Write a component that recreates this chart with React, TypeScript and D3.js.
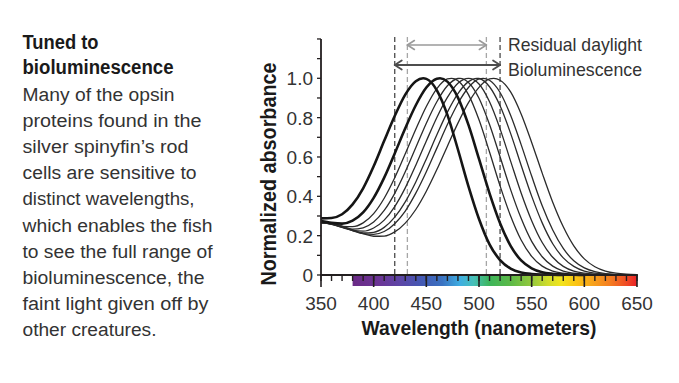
import React from "react";
import * as d3 from "d3";

// ---------- DATA ----------
const wavelengths = [350, 360, 370, 380, 390, 400, 410, 420, 430, 440, 450, 460, 470, 480, 490, 500, 510, 520, 530, 540, 550, 560, 570, 580, 590, 600, 610, 620, 630, 640, 650];
const peakWavelengths = [447, 463, 474, 482, 490, 498, 504, 514];
const boldCurve = [true, true, false, false, false, false, false, false];

const absorbance447 = [0.288, 0.290, 0.309, 0.359, 0.441, 0.553, 0.682, 0.808, 0.917, 0.985, 0.997, 0.939, 0.814, 0.638, 0.451, 0.285, 0.156, 0.076, 0.033, 0.013, 0.005, 0.002, 0.001, 0];
const absorbance463 = [0.274, 0.265, 0.261, 0.276, 0.318, 0.392, 0.495, 0.618, 0.746, 0.863, 0.953, 0.998, 0.983, 0.902, 0.763, 0.590, 0.415, 0.263, 0.148, 0.074, 0.034, 0.014, 0.006, 0.002, 0.001, 0];
const absorbance474 = [0.271, 0.259, 0.247, 0.246, 0.265, 0.312, 0.390, 0.494, 0.616, 0.741, 0.857, 0.948, 0.997, 0.988, 0.917, 0.789, 0.625, 0.453, 0.300, 0.178, 0.095, 0.045, 0.020, 0.009, 0.004, 0.001, 0];
const absorbance482 = [0.269, 0.258, 0.243, 0.233, 0.240, 0.269, 0.328, 0.415, 0.525, 0.648, 0.772, 0.881, 0.962, 0.999, 0.979, 0.899, 0.765, 0.601, 0.434, 0.288, 0.171, 0.093, 0.045, 0.020, 0.009, 0.004, 0.002, 0.001, 0];
const absorbance490 = [0.268, 0.259, 0.242, 0.227, 0.223, 0.239, 0.279, 0.348, 0.443, 0.558, 0.681, 0.801, 0.903, 0.975, 1.0, 0.971, 0.881, 0.743, 0.579, 0.417, 0.276, 0.165, 0.090, 0.044, 0.020, 0.009, 0.004, 0.002, 0.001, 0];
const absorbance498 = [0.267, 0.260, 0.244, 0.226, 0.214, 0.217, 0.242, 0.294, 0.372, 0.473, 0.590, 0.713, 0.828, 0.922, 0.983, 0.999, 0.957, 0.860, 0.720, 0.558, 0.401, 0.265, 0.159, 0.087, 0.044, 0.020, 0.009, 0.004, 0.002, 0.001, 0];
const absorbance504 = [0.266, 0.261, 0.245, 0.226, 0.210, 0.207, 0.221, 0.261, 0.325, 0.416, 0.525, 0.645, 0.765, 0.872, 0.953, 0.997, 0.990, 0.928, 0.812, 0.663, 0.503, 0.352, 0.229, 0.135, 0.072, 0.036, 0.017, 0.007, 0.003, 0.001, 0.001];
const absorbance514 = [0.264, 0.262, 0.249, 0.229, 0.210, 0.197, 0.198, 0.219, 0.264, 0.333, 0.426, 0.536, 0.655, 0.772, 0.876, 0.954, 0.997, 0.990, 0.931, 0.819, 0.674, 0.518, 0.370, 0.245, 0.148, 0.082, 0.042, 0.020, 0.009, 0.004, 0.002];
const curveSeries = [absorbance447, absorbance463, absorbance474, absorbance482, absorbance490, absorbance498, absorbance504, absorbance514];

const xMajorTicks = [350, 400, 450, 500, 550, 600, 650];
const xMinorTicks = d3.range(350, 651, 10);
const yTickValues = [0, 0.2, 0.4, 0.6, 0.8, 1.0];
const yTickLabels = ["0", "0.2", "0.4", "0.6", "0.8", "1.0"];
const yMinorTicks = d3.range(0, 13).map((i) => i / 10);

const bioluminescenceRange = [420, 520];
const daylightRange = [432, 507];

const spectrumWavelengths = [380, 405, 425, 445, 465, 482, 495, 510, 530, 550, 565, 578, 592, 608, 625, 640, 650];
const spectrumColors = ["#6a2a86", "#6c3596", "#5d46a6", "#4458b3", "#3a72c1", "#3eaee2", "#47c0b8", "#3db55a", "#5cb947", "#94c93c", "#cfdc2c", "#f2e41d", "#fbc514", "#f7a21b", "#f47b20", "#ef4b25", "#ea2127"];

const captionTitle = ["Tuned to", "bioluminescence"];
const captionBody = [
  "Many of the opsin",
  "proteins found in the",
  "silver spinyfin\u2019s rod",
  "cells are sensitive to",
  "distinct wavelengths,",
  "which enables the fish",
  "to see the full range of",
  "bioluminescence, the",
  "faint light given off by",
  "other creatures.",
];
const captionBodyWidths = [152, 179, 166, 174, 172, 190, 190, 182, 186, 134];
const captionTitleWidths = [76, 151];

// ---------- CHART ----------
export default function App() {
  const W = 679;
  const H = 383;
  const x = d3.scaleLinear().domain([350, 650]).range([321, 637]);
  const y = d3.scaleLinear().domain([0, 1]).range([275, 78.3]);

  const line = d3
    .line<[number, number]>()
    .x((d) => x(d[0]))
    .y((d) => y(d[1]))
    .curve(d3.curveMonotoneX);

  const curvePoints = curveSeries.map((vals, ci) => {
    const peak = peakWavelengths[ci];
    const pts: [number, number][] = vals.map((v, i) => [wavelengths[i], v] as [number, number]).filter((p) => p[0] !== peak);
    pts.push([peak, 1.0]);
    pts.sort((a, b) => a[0] - b[0]);
    return pts;
  });

  const order = d3.range(curveSeries.length).sort((a, b) => Number(boldCurve[a]) - Number(boldCurve[b]));

  const axisColor = "#231f20";
  const textColor = "#333333";
  const labelFont = "'Liberation Sans', Arial, sans-serif";
  const bodyFont = "'Liberation Sans', Arial, sans-serif";
  const yTop = y(1.2);

  const arrowHead = (tipX: number, yy: number, dir: number) =>
    `M${tipX + dir * 7},${yy - 4.5} L${tipX},${yy} L${tipX + dir * 7},${yy + 4.5}`;

  return (
    <svg
      width={W}
      height={H}
      viewBox={`0 0 ${W} ${H}`}
      style={{ position: "absolute", left: 0, top: 0, background: "#ffffff", display: "block" }}
    >
      <defs>
        <linearGradient id="spectrum" x1={x(380)} x2={x(650)} y1={0} y2={0} gradientUnits="userSpaceOnUse">
          {spectrumWavelengths.map((w, i) => (
            <stop key={i} offset={(w - 380) / (650 - 380)} stopColor={spectrumColors[i]} />
          ))}
        </linearGradient>
      </defs>

      {/* Caption */}
      {captionTitle.map((t, i) => (
        <text
          key={"t" + i}
          x={22.5}
          y={48.5 + i * 25.8}
          fontFamily={bodyFont}
          fontWeight={700}
          fontSize={20}
          fill="#1a1a1a"
          textLength={captionTitleWidths[i]}
          lengthAdjust="spacingAndGlyphs"
        >
          {t}
        </text>
      ))}
      {captionBody.map((t, i) => (
        <text
          key={"b" + i}
          x={22.5}
          y={101 + i * 26.1}
          fontFamily={bodyFont}
          fontSize={18}
          fill={textColor}
          textLength={captionBodyWidths[i]}
          lengthAdjust="spacingAndGlyphs"
        >
          {t}
        </text>
      ))}

      {/* spectrum bar */}
      <rect x={x(380)} y={276} width={x(650) - x(380)} height={10} fill="url(#spectrum)" />

      {/* dashed range lines */}
      {bioluminescenceRange.map((w, i) => (
        <line key={"bl" + i} x1={x(w)} x2={x(w)} y1={37} y2={275} stroke="#4a4a4a" strokeWidth={1.3} strokeDasharray="5,3" />
      ))}
      {daylightRange.map((w, i) => (
        <line key={"dl" + i} x1={x(w)} x2={x(w)} y1={37} y2={275} stroke="#a6a6a6" strokeWidth={1.3} strokeDasharray="5,3" />
      ))}

      {/* range arrows */}
      <g fill="none" strokeLinecap="round" strokeLinejoin="round">
        <line x1={x(daylightRange[0])} x2={x(daylightRange[1])} y1={45} y2={45} stroke="#9a9a9a" strokeWidth={1.6} />
        <path d={arrowHead(x(daylightRange[0]), 45, 1)} stroke="#9a9a9a" strokeWidth={1.6} />
        <path d={arrowHead(x(daylightRange[1]), 45, -1)} stroke="#9a9a9a" strokeWidth={1.6} />
        <line x1={x(bioluminescenceRange[0])} x2={x(bioluminescenceRange[1])} y1={65} y2={65} stroke="#4d4d4d" strokeWidth={1.8} />
        <path d={arrowHead(x(bioluminescenceRange[0]), 65, 1)} stroke="#4d4d4d" strokeWidth={1.8} />
        <path d={arrowHead(x(bioluminescenceRange[1]), 65, -1)} stroke="#4d4d4d" strokeWidth={1.8} />
      </g>
      <text x={508} y={51} fontFamily={labelFont} fontSize={19} fill={textColor} textLength={134} lengthAdjust="spacingAndGlyphs">
        Residual daylight
      </text>
      <text x={508} y={75.5} fontFamily={labelFont} fontSize={19} fill={textColor} textLength={134} lengthAdjust="spacingAndGlyphs">
        Bioluminescence
      </text>

      {/* curves */}
      {order.map((ci) => (
        <path
          key={"c" + ci}
          d={line(curvePoints[ci]) || ""}
          fill="none"
          stroke={boldCurve[ci] ? "#151515" : "#2b2b2b"}
          strokeWidth={boldCurve[ci] ? 2.6 : 1.3}
          strokeLinejoin="round"
        />
      ))}

      {/* axes */}
      <line x1={x(350)} x2={x(350)} y1={yTop} y2={y(0)} stroke={axisColor} strokeWidth={1.8} />
      {yMinorTicks.map((v, i) => (
        <line key={"ym" + i} x1={x(350) - 4} x2={x(350)} y1={y(v)} y2={y(v)} stroke={axisColor} strokeWidth={1.3} />
      ))}
      {yTickValues.map((v, i) => (
        <text key={"yl" + i} x={313} y={y(v) + 7} textAnchor="end" fontFamily={labelFont} fontSize={19} fill={textColor}>
          {yTickLabels[i]}
        </text>
      ))}

      <line x1={x(350) - 0.9} x2={x(650) + 0.9} y1={y(0)} y2={y(0)} stroke={axisColor} strokeWidth={2} />
      {xMinorTicks.map((v, i) => (
        <line key={"xm" + i} x1={x(v)} x2={x(v)} y1={y(0)} y2={y(0) + 6} stroke={axisColor} strokeWidth={1.4} />
      ))}
      {xMajorTicks.map((v, i) => (
        <line key={"xM" + i} x1={x(v)} x2={x(v)} y1={y(0)} y2={y(0) + 12} stroke={axisColor} strokeWidth={1.6} />
      ))}
      {xMajorTicks.map((v, i) => (
        <text key={"xl" + i} x={x(v)} y={309.5} textAnchor="middle" fontFamily={labelFont} fontSize={19} fill={textColor}>
          {String(v)}
        </text>
      ))}

      {/* axis titles */}
      <text
        x={479}
        y={334.5}
        textAnchor="middle"
        fontFamily={labelFont}
        fontWeight={700}
        fontSize={20.5}
        fill="#1a1a1a"
        textLength={235}
        lengthAdjust="spacingAndGlyphs"
      >
        Wavelength (nanometers)
      </text>
      <text
        transform={`translate(275.5,174) rotate(-90)`}
        textAnchor="middle"
        fontFamily={labelFont}
        fontWeight={700}
        fontSize={22}
        fill="#1a1a1a"
        textLength={223}
        lengthAdjust="spacingAndGlyphs"
      >
        Normalized absorbance
      </text>
    </svg>
  );
}
